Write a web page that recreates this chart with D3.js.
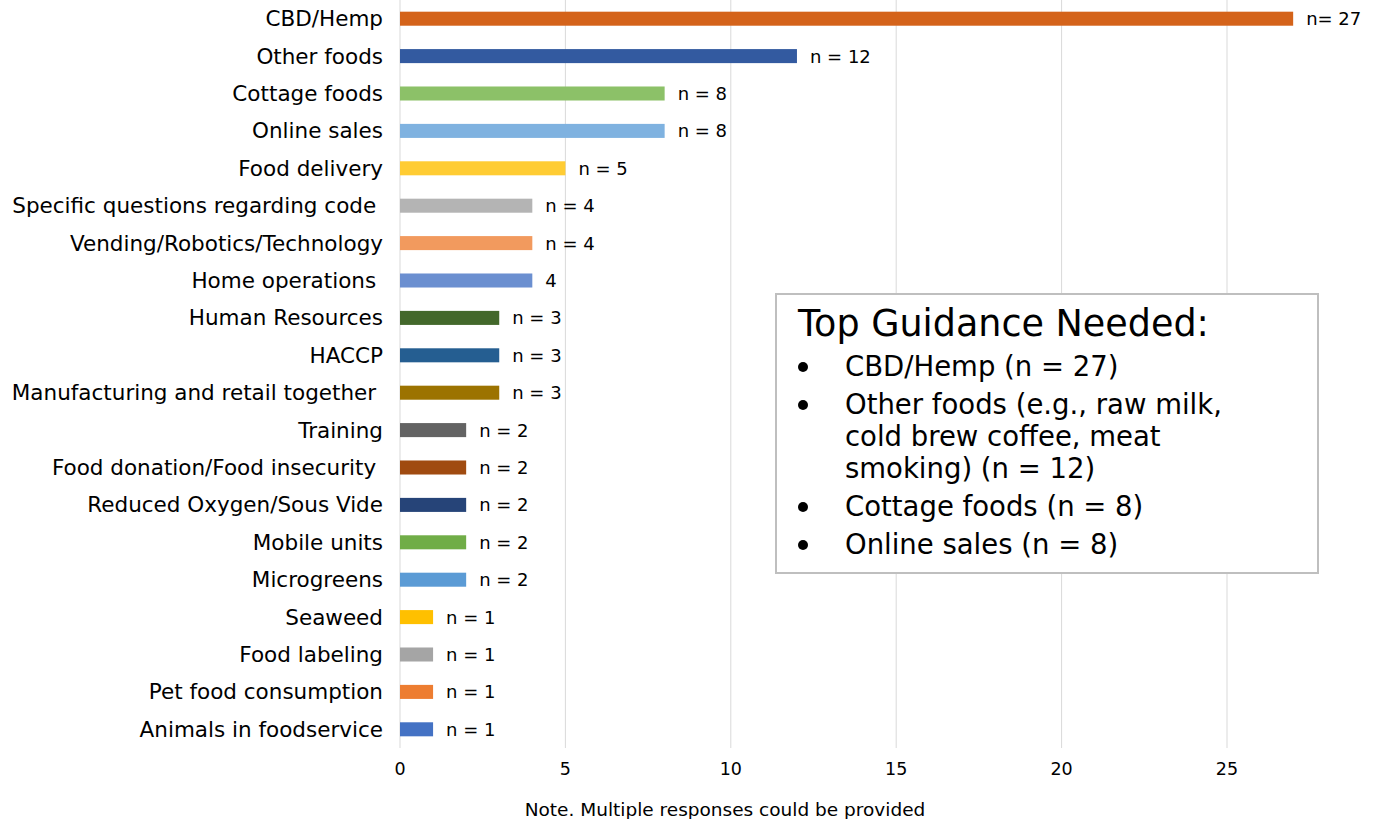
<!DOCTYPE html>
<html lang="en">
<head>
<meta charset="utf-8">
<title>Top Guidance Needed</title>
<style>
  body { margin: 0; background: #fff; font-family: "DejaVu Sans", sans-serif; }
  .cat-label { text-anchor: end; font-size: 21.5px; fill: #000; white-space: pre; }
  .val-label { font-size: 18px; fill: #000; }
  .grid line { stroke: #d9d9d9; stroke-width: 1px; }
  .tick-label { text-anchor: middle; font-size: 17.5px; fill: #000; }
  .note { text-anchor: middle; font-size: 18.5px; fill: #000; }
  .box { fill: #fff; stroke: #bfbfbf; stroke-width: 2px; }
  .box-title { font-size: 36.5px; fill: #000; }
  .box-item { font-size: 27.5px; fill: #000; }
</style>
</head>
<body>
<script src="https://d3js.org/d3.v7.min.js" charset="utf-8"></script>
<script>
var categories = ['CBD/Hemp', 'Other foods', 'Cottage foods', 'Online sales', 'Food delivery',
    'Specific questions regarding code ', 'Vending/Robotics/Technology', 'Home operations ',
    'Human Resources', 'HACCP', 'Manufacturing and retail together ', 'Training',
    'Food donation/Food insecurity ', 'Reduced Oxygen/Sous Vide', 'Mobile units', 'Microgreens',
    'Seaweed', 'Food labeling', 'Pet food consumption', 'Animals in foodservice']

var counts = [27, 12, 8, 8, 5, 4, 4, 4, 3, 3, 3, 2, 2, 2, 2, 2, 1, 1, 1, 1]

var valueLabels = ['n= 27', 'n = 12', 'n = 8', 'n = 8', 'n = 5', 'n = 4', 'n = 4', '4',
    'n = 3', 'n = 3', 'n = 3', 'n = 2', 'n = 2', 'n = 2', 'n = 2', 'n = 2',
    'n = 1', 'n = 1', 'n = 1', 'n = 1']

var barColors = ['#D4631A', '#335AA0', '#8CC168', '#7FB2E0', '#FFCC33', '#B4B4B4', '#F29A5E',
    '#6B8FD0', '#43682B', '#255E91', '#9C7300', '#636363', '#A04B10', '#264478',
    '#70AD47', '#5B9BD5', '#FFC000', '#A5A5A5', '#ED7D31', '#4472C4']

var ticks = [0, 5, 10, 15, 20, 25]

var boxTitle = 'Top Guidance Needed:'
var boxItems = [
    ['CBD/Hemp (n = 27)'],
    ['Other foods (e.g., raw milk,', 'cold brew coffee, meat', 'smoking) (n = 12)'],
    ['Cottage foods (n = 8)'],
    ['Online sales (n = 8)']
]

var noteText = 'Note. Multiple responses could be provided'

var width = 1377, height = 819
var plotLeft = 400, plotTop = 0, plotBottom = 748

var svg = d3.select('body').append('svg')
    .attr('width', width)
    .attr('height', height)

var x = d3.scaleLinear()
    .domain([0, 25])
    .range([plotLeft, plotLeft + 827])

var y = d3.scaleBand()
    .domain(categories)
    .range([plotTop, plotBottom])
    .paddingInner(0.625)
    .paddingOuter(0.3125)

// gridlines
svg.append('g').attr('class', 'grid')
    .selectAll('line')
    .data(ticks)
    .enter().append('line')
        .attr('x1', function(d) { return x(d) })
        .attr('x2', function(d) { return x(d) })
        .attr('y1', plotTop)
        .attr('y2', plotBottom)

svg.append('g')
    .selectAll('text')
    .data(ticks)
    .enter().append('text')
        .attr('class', 'tick-label')
        .attr('x', function(d) { return x(d) })
        .attr('y', 775)
        .text(function(d) { return d })

// bars
svg.append('g')
    .selectAll('rect')
    .data(counts)
    .enter().append('rect')
        .attr('x', x(0))
        .attr('y', function(d, i) { return y(categories[i]) })
        .attr('height', y.bandwidth())
        .attr('width', function(d) { return x(d) - x(0) })
        .attr('fill', function(d, i) { return barColors[i] })

svg.append('g')
    .selectAll('text')
    .data(categories)
    .enter().append('text')
        .attr('class', 'cat-label')
        .attr('x', 383)
        .attr('y', function(d) { return y(d) + y.bandwidth() / 2 })
        .attr('dy', '0.35em')
        .text(function(d) { return d })

svg.append('g')
    .selectAll('text')
    .data(counts)
    .enter().append('text')
        .attr('class', 'val-label')
        .attr('x', function(d) { return x(d) + 13 })
        .attr('y', function(d, i) { return y(categories[i]) + y.bandwidth() / 2 })
        .attr('dy', '0.36em')
        .text(function(d, i) { return valueLabels[i] })

// note
svg.append('text')
    .attr('class', 'note')
    .attr('x', 725)
    .attr('y', 816)
    .text(noteText)

// text box
var box = svg.append('g').attr('transform', 'translate(776,294)')
box.append('rect').attr('class', 'box')
    .attr('width', 542).attr('height', 279)
box.append('text').attr('class', 'box-title')
    .attr('x', 22).attr('y', 42)
    .text(boxTitle)

var lineY = 82, lineStep = 32
boxItems.forEach(function(item) {
    box.append('circle')
        .attr('cx', 27).attr('cy', lineY - 9).attr('r', 5).attr('fill', '#000')
    item.forEach(function(line, j) {
        box.append('text').attr('class', 'box-item')
            .attr('x', 69).attr('y', lineY + j * lineStep)
            .text(line)
    })
    lineY += (item.length - 1) * lineStep + 38
})
</script>
</body>
</html>
